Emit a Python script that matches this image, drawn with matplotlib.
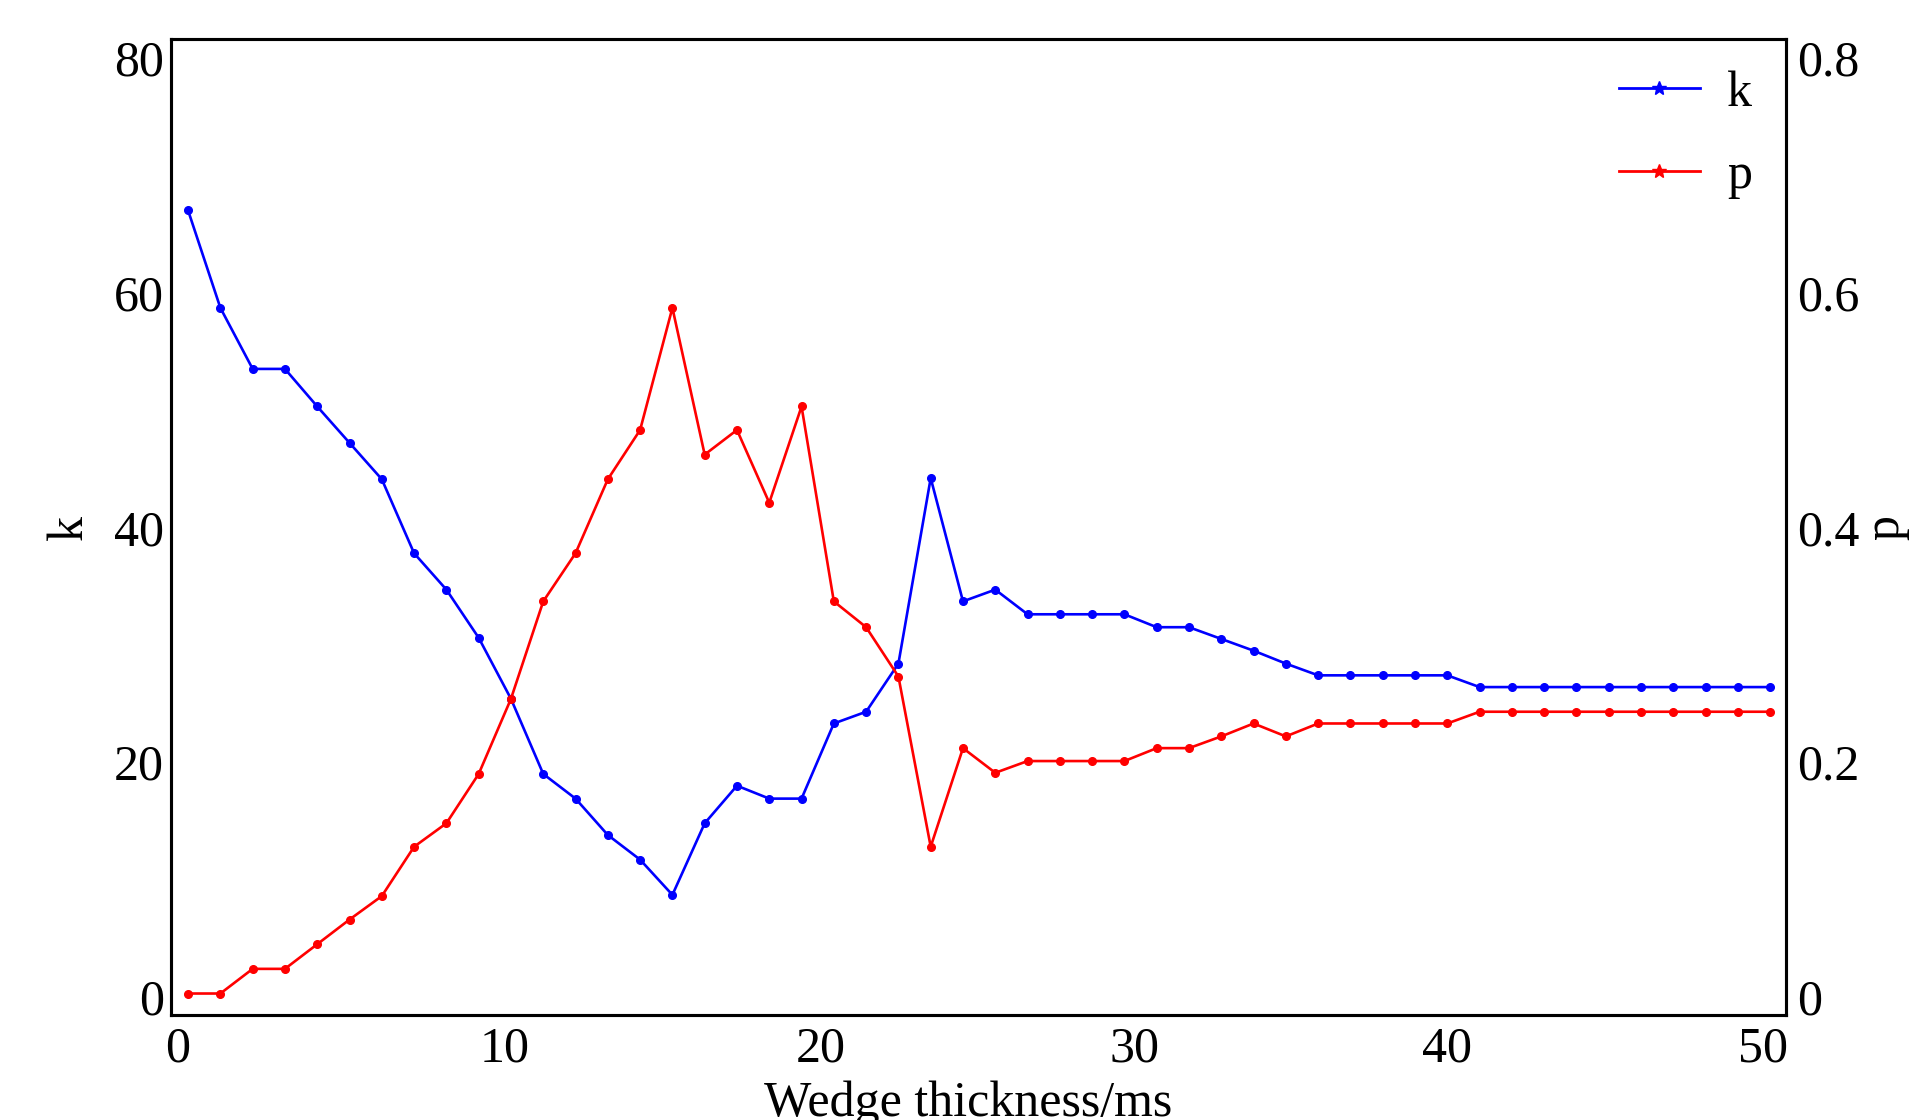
import numpy as np
import matplotlib
matplotlib.use("Agg")
import matplotlib.pyplot as plt
import matplotlib.transforms as mtransforms
from matplotlib.lines import Line2D

plt.rcParams['font.family'] = ['Liberation Serif', 'DejaVu Serif']

# Wedge thickness (50 samples from 0 to 50 ms)
thickness = np.linspace(0, 50, 50)

k_values = [67.0, 58.7, 53.5, 53.5, 50.3, 47.2, 44.1, 37.8, 34.7, 30.6,
            25.4, 19.0, 16.9, 13.8, 11.7, 8.7, 14.8, 18.0, 16.9, 16.9,
            23.3, 24.3, 28.4, 44.2, 33.7, 34.7, 32.6, 32.6, 32.6, 32.6,
            31.5, 31.5, 30.5, 29.5, 28.4, 27.4, 27.4, 27.4, 27.4, 27.4,
            26.4, 26.4, 26.4, 26.4, 26.4, 26.4, 26.4, 26.4, 26.4, 26.4]

p_values = [0.003, 0.003, 0.024, 0.024, 0.045, 0.066, 0.086, 0.128, 0.148, 0.190,
            0.254, 0.337, 0.378, 0.441, 0.483, 0.587, 0.462, 0.483, 0.421, 0.503,
            0.337, 0.315, 0.273, 0.128, 0.212, 0.191, 0.201, 0.201, 0.201, 0.201,
            0.212, 0.212, 0.222, 0.233, 0.222, 0.233, 0.233, 0.233, 0.233, 0.233,
            0.243, 0.243, 0.243, 0.243, 0.243, 0.243, 0.243, 0.243, 0.243, 0.243]

x_ticks = [0, 10, 20, 30, 40, 50]
k_ticks = [0, 20, 40, 60, 80]
p_ticks = [0, 0.2, 0.4, 0.6, 0.8]
p_ticklabels = ['0', '0.2', '0.4', '0.6', '0.8']

FS = 36
fig = plt.figure(figsize=(19.09, 11.2), dpi=100)
ax = fig.add_axes([171/1909, 105/1120, (1786-171)/1909, (1015-39)/1120])
ax2 = ax.twinx()

ax.plot(thickness, k_values, color='#0000ff', lw=1.9, marker='o', ms=5.5)
ax2.plot(thickness, p_values, color='#ff0000', lw=1.9, marker='o', ms=5.5)

ax.set_xlim(-0.54, 50.5)
ax.set_ylim(-1.53, 81.6)
ax2.set_ylim(-0.0153, 0.816)

ax.set_xticks(x_ticks)
ax.set_xticklabels([str(t) for t in x_ticks])
ax.set_yticks(k_ticks)
ax.set_yticklabels([str(t) for t in k_ticks])
ax2.set_yticks(p_ticks)
ax2.set_yticklabels(p_ticklabels)

ax.tick_params(axis='x', length=0, pad=8, labelsize=FS)
ax.tick_params(axis='y', length=0, pad=5, labelsize=FS)
ax2.tick_params(axis='y', length=0, pad=8, labelsize=FS)

# small horizontal nudges of x tick labels to match the reference placement
shifts_px = [-10, 0, 0, -3, -7, -7]
for lbl, dx in zip(ax.get_xticklabels(), shifts_px):
    lbl.set_transform(lbl.get_transform() +
                      mtransforms.ScaledTranslation(dx / 100, 0, fig.dpi_scale_trans))

for a in (ax, ax2):
    for s in a.spines.values():
        s.set_linewidth(2.2)

ax.set_xlabel('Wedge thickness/ms', fontsize=FS, labelpad=6)
ax.xaxis.label.set_x((968 - 171) / 1615)
ax.set_ylabel('k', fontsize=FS, labelpad=15)
ax2.set_ylabel('p', fontsize=FS, labelpad=2)

handles = [Line2D([], [], color='#0000ff', lw=2, marker='*', ms=10),
           Line2D([], [], color='#ff0000', lw=2, marker='*', ms=10)]
leg = ax2.legend(handles, ['k', 'p'], loc='upper right', frameon=False,
                 fontsize=FS, handlelength=1.62, handletextpad=0.55,
                 labelspacing=0.72, borderpad=0,
                 bbox_to_anchor=(1777/1909, (1120-45)/1120),
                 bbox_transform=fig.transFigure)

fig.savefig('out.png', dpi=100)
